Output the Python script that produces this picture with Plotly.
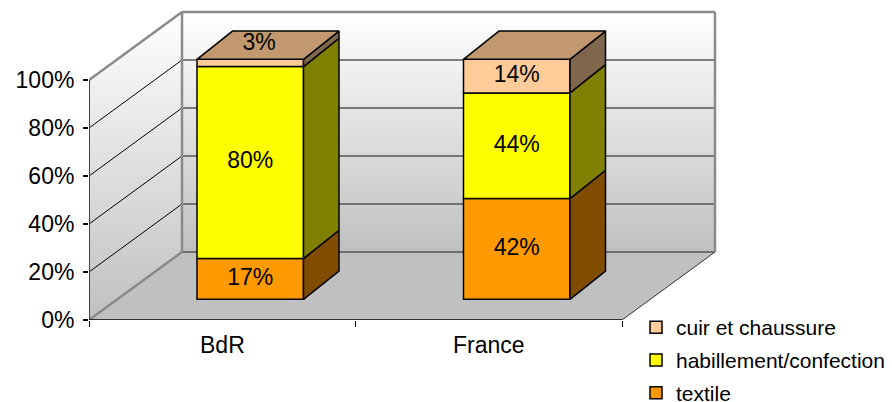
import plotly.graph_objects as go

# ---------------- data ----------------
categories = ["BdR", "France"]
series_names = ["textile", "habillement/confection", "cuir et chaussure"]
textile = [17, 42]
habillement = [80, 44]
cuir = [3, 14]
series_values = [textile, habillement, cuir]
y_tick_values = [0, 20, 40, 60, 80, 100]
y_tick_labels = ["0%", "20%", "40%", "60%", "80%", "100%"]

# ---------------- style ----------------
front_colors = ["#FF9900", "#FFFF00", "#FFCC99"]
side_colors = ["#7F4C00", "#808000", "#80664D"]
top_color = "#C2996F"
FONT = "Liberation Sans, Arial, sans-serif"

# geometry (axis units: x = category units, y = percent)
PX_X = 266.5   # px per category unit
PX_Y = 2.4     # px per percent
WALL_DX, WALL_DY = 93 / PX_X, 68 / PX_Y
BAR_SHIFT_X, BAR_SHIFT_Y = 28 / PX_X, 8.6
BAR_DX, BAR_DY = 35.5 / PX_X, 11.8
BAR_W = 106.5 / PX_X

L, R, T, B = 89, 170, 5, 82
W, H = 892, 402
x_range = [0, (W - L - R) / PX_X]
y_range = [0, (H - T - B) / PX_Y]
ncat = len(categories)

fig = go.Figure()


def poly(xs, ys, fill=None, line_color="black", line_width=1.5, z=0, grad=None):
    kw = dict(x=xs + [xs[0]], y=ys + [ys[0]], mode="lines",
              line=dict(color=line_color, width=line_width),
              hoverinfo="skip", showlegend=False, zorder=z)
    if fill is not None or grad is not None:
        kw["fill"] = "toself"
        kw["fillcolor"] = fill if fill else "rgba(0,0,0,0)"
    if grad is not None:
        kw["fillgradient"] = grad
    if line_width == 0:
        kw["line"] = dict(width=0, color="rgba(0,0,0,0)")
    fig.add_trace(go.Scatter(**kw))


def seg(x0, y0, x1, y1, color, width, z=0):
    fig.add_trace(go.Scatter(x=[x0, x1], y=[y0, y1], mode="lines",
                             line=dict(color=color, width=width),
                             hoverinfo="skip", showlegend=False, zorder=z))


grad = dict(type="vertical", colorscale=[[0, "#C0C0C0"], [1, "#FFFFFF"]])
top_v = y_tick_values[-1]

# back wall
poly([WALL_DX, ncat + WALL_DX, ncat + WALL_DX, WALL_DX],
     [WALL_DY, WALL_DY, top_v + WALL_DY, top_v + WALL_DY],
     fill="#E0E0E0", grad=grad, line_width=0, z=0)
# left wall
poly([0, WALL_DX, WALL_DX, 0], [0, WALL_DY, top_v + WALL_DY, top_v],
     fill="#E0E0E0", grad=grad, line_width=0, z=0)
# floor
poly([0, ncat, ncat + WALL_DX, WALL_DX], [0, 0, WALL_DY, WALL_DY],
     fill="#C0C0C0", line_width=0, z=0)

# gridlines on back wall and left wall
for v in y_tick_values[:-1]:
    seg(WALL_DX, v + WALL_DY, ncat + WALL_DX, v + WALL_DY, "#555555", 1.5, z=0)
for v in y_tick_values[1:-1]:
    seg(0, v, WALL_DX, v + WALL_DY, "#000000", 1, z=0)

# wall edges
EDGE = "#8A8A8A"
seg(WALL_DX, WALL_DY, WALL_DX, top_v + WALL_DY, EDGE, 2.5, z=0)
seg(ncat + WALL_DX, WALL_DY, ncat + WALL_DX, top_v + WALL_DY, EDGE, 2.5, z=0)
seg(WALL_DX, top_v + WALL_DY, ncat + WALL_DX, top_v + WALL_DY, EDGE, 2.5, z=0)
seg(0, top_v, WALL_DX, top_v + WALL_DY, EDGE, 2.5, z=0)
seg(0, 0, WALL_DX, WALL_DY, EDGE, 2.5, z=0)
seg(ncat, 0, ncat + WALL_DX, WALL_DY, "#333333", 1, z=0)
# axis lines
seg(0, 0, 0, top_v, "#404040", 2, z=0)
seg(0, 0, ncat, 0, "#000000", 1.5, z=0)

# ---------------- bars ----------------
centers = [i + 0.5 + BAR_SHIFT_X for i in range(ncat)]
bases = [[0] * ncat]
for s in series_values[:-1]:
    bases.append([b + v for b, v in zip(bases[-1], s)])

nser = len(series_names)
for si, (name, vals) in enumerate(zip(series_names, series_values)):
    fig.add_trace(go.Bar(
        x=centers, y=vals, base=[b + BAR_SHIFT_Y for b in bases[si]],
        width=BAR_W, name=name, legendgroup=name, legendrank=nser - si,
        marker=dict(color=front_colors[si], line=dict(color="black", width=1.5)),
        hoverinfo="skip", zorder=1))

# side faces and top faces
for ci in range(ncat):
    xl = centers[ci] - BAR_W / 2
    xr = centers[ci] + BAR_W / 2
    for si, vals in enumerate(series_values):
        b = bases[si][ci] + BAR_SHIFT_Y
        t = b + vals[ci]
        poly([xr, xr + BAR_DX, xr + BAR_DX, xr], [b, b + BAR_DY, t + BAR_DY, t],
             fill=side_colors[si], z=2)
    T_ = bases[-1][ci] + series_values[-1][ci] + BAR_SHIFT_Y
    poly([xl, xl + BAR_DX, xr + BAR_DX, xr], [T_, T_ + BAR_DY, T_ + BAR_DY, T_],
         fill=top_color, z=2)

# data labels
lx, ly, lt = [], [], []
for ci in range(ncat):
    for si, vals in enumerate(series_values):
        b = bases[si][ci] + BAR_SHIFT_Y
        v = vals[ci]
        if v >= 8:
            lx.append(centers[ci])
            ly.append(b + v / 2)
        else:  # too thin: label sits on the top face
            lx.append(centers[ci] + 0.25 * BAR_DX)
            ly.append(b + v + 0.55 * BAR_DY)
        lt.append(f"{v}%")
fig.add_trace(go.Scatter(x=lx, y=ly, text=lt, mode="text",
                         textfont=dict(family=FONT, size=23, color="black"),
                         hoverinfo="skip", showlegend=False, cliponaxis=False, zorder=3))

# category labels
for ci, c in enumerate(categories):
    fig.add_annotation(x=ci + 0.5, y=-25 / (H - T - B), xref="x", yref="paper",
                       text=c, showarrow=False, yanchor="middle",
                       font=dict(family=FONT, size=23, color="black"))

fig.update_layout(
    width=W, height=H,
    margin=dict(l=L, r=R, t=T, b=B, autoexpand=False),
    paper_bgcolor="white", plot_bgcolor="white",
    barmode="overlay",
    showlegend=True,
    legend=dict(xref="container", yref="container", x=636 / W, y=1 - 307 / H,
                xanchor="left", yanchor="top", traceorder="grouped",
                font=dict(family=FONT, size=21, color="black"),
                itemwidth=30, tracegroupgap=2.5, bgcolor="rgba(0,0,0,0)"),
    xaxis=dict(range=x_range, showgrid=False, zeroline=False, showline=False,
               tickvals=list(range(ncat + 1)), ticktext=[""] * (ncat + 1),
               ticks="outside", ticklen=6, tickwidth=1, tickcolor="black",
               fixedrange=True),
    yaxis=dict(range=y_range, showgrid=False, zeroline=False, showline=False,
               tickvals=y_tick_values, ticktext=y_tick_labels,
               ticks="outside", ticklen=5, tickwidth=1.5, tickcolor="black",
               tickfont=dict(family=FONT, size=23, color="black"),
               ticklabelstandoff=4, fixedrange=True),
)

fig.write_html("out.html")
